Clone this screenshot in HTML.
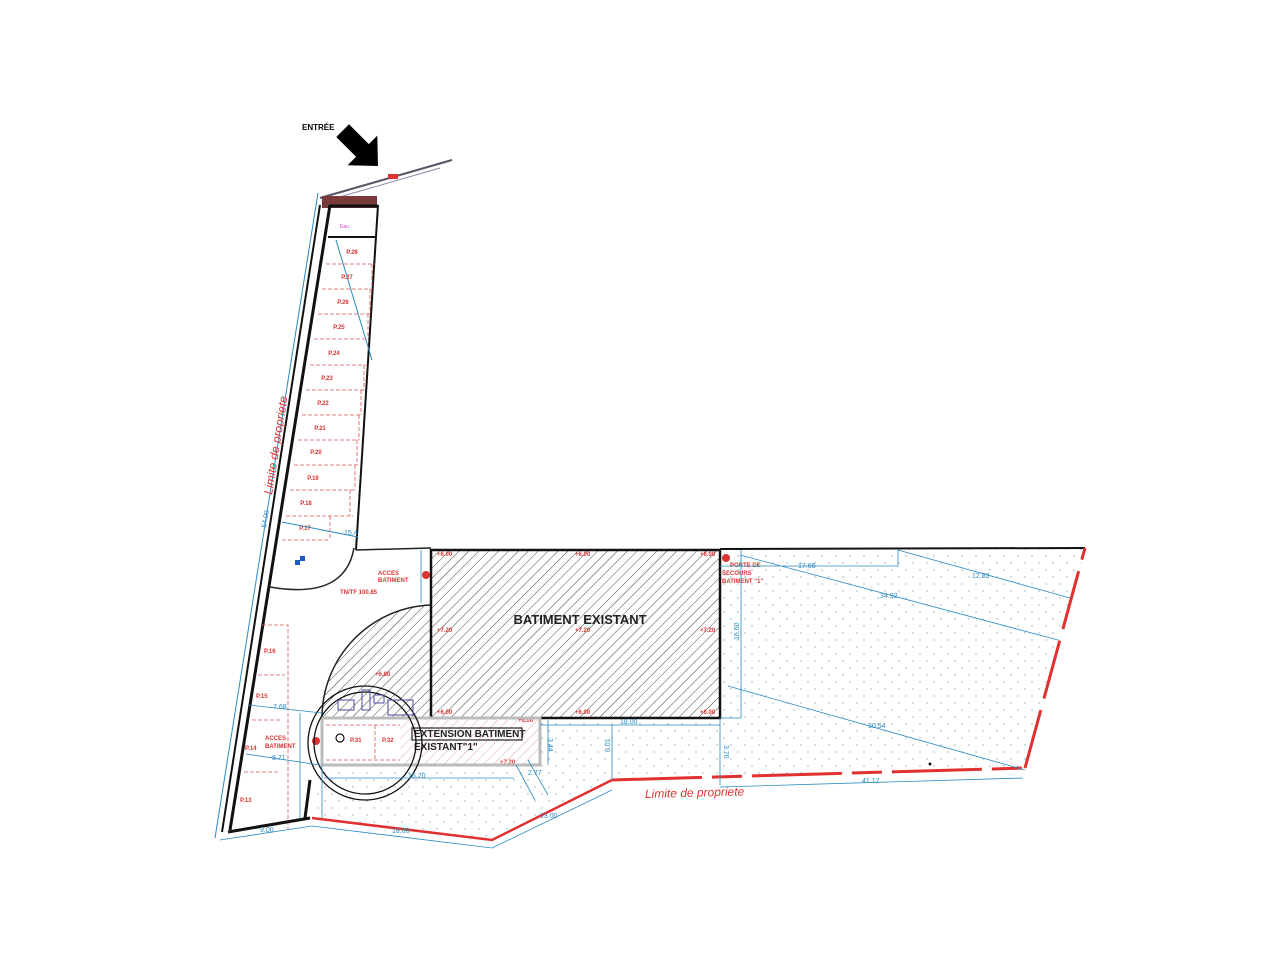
<!DOCTYPE html>
<html><head><meta charset="utf-8"><style>
html,body{margin:0;padding:0;background:#fff;}
svg{display:block;}
text{font-family:"Liberation Sans",sans-serif;}
.r{fill:#d33;font-size:6px;font-weight:bold;}
.b{fill:#2a8ac0;font-size:7px;}
</style></head><body>
<svg width="1280" height="960" viewBox="0 0 1280 960" xmlns="http://www.w3.org/2000/svg">
<defs>
<pattern id="h" width="7" height="7" patternUnits="userSpaceOnUse" patternTransform="rotate(45)">
<line x1="0" y1="0" x2="0" y2="7" stroke="#333" stroke-width="0.9"/></pattern>
<pattern id="hp" width="7" height="7" patternUnits="userSpaceOnUse" patternTransform="rotate(45)">
<line x1="0" y1="0" x2="0" y2="7" stroke="#e0a0a0" stroke-width="0.9"/></pattern>
<pattern id="d" width="14" height="14" patternUnits="userSpaceOnUse">
<circle cx="3" cy="3" r="0.7" fill="#8ab"/><circle cx="10" cy="10" r="0.7" fill="#8ab"/></pattern>
</defs>
<rect width="1280" height="960" fill="#fff"/>
<polygon points="720,550 1085,548 1025,768 612,780 492,840 312,818 322,765 540,765 540,718 720,718" fill="url(#d)"/>
<text x="302" y="130" font-size="8" font-weight="bold" fill="#000">ENTRÉE</text>
<polygon points="-50,-9 -22,-9 -22,-21 0,0 -22,21 -22,9 -50,9" fill="#000" transform="translate(378,166) rotate(45)"/>
<line x1="320" y1="198" x2="452" y2="160" stroke="#556" stroke-width="2"/>
<line x1="322" y1="202" x2="440" y2="168" stroke="#88a" stroke-width="1"/>
<rect x="388" y="174" width="10" height="5" fill="#d33"/>
<rect x="322" y="196" width="55" height="12" fill="#7a3a3a"/>
<text x="340" y="228" font-size="5" fill="#c4c">Eau</text>
<line x1="318" y1="193" x2="215" y2="838" stroke="#2a8ac0" stroke-width="1"/>
<line x1="320" y1="205" x2="222" y2="832" stroke="#111" stroke-width="2"/>
<line x1="330" y1="205" x2="230" y2="830" stroke="#111" stroke-width="3"/>
<line x1="378" y1="205" x2="356" y2="550" stroke="#111" stroke-width="2"/>
<line x1="330" y1="206" x2="378" y2="206" stroke="#111" stroke-width="3"/>
<line x1="328" y1="237" x2="377" y2="237" stroke="#111" stroke-width="2"/>
<line x1="336" y1="240" x2="372" y2="360" stroke="#2a8ac0" stroke-width="1"/>
<g stroke="#d55" stroke-width="0.8" fill="none" stroke-dasharray="4,2">
<path d="M326,264 H375 M322,289 H372 M318,314 H370 M314,339 H368 M310,365 H366 M306,390 H364 M302,415 H361 M298,440 H359 M294,465 H357 M290,490 H355 M286,516 H353 M282,540 H330"/>
<path d="M372,264 V289 M370,289 V314 M368,314 V339 M364,365 V390 M361,390 V415 M359,415 V440 M357,440 V465 M355,465 V490 M350,490 V516 M330,516 V540"/>
</g>
<g class="r" text-anchor="middle">
<text x="352" y="254">P.28</text><text x="347" y="279">P.27</text><text x="343" y="304">P.26</text><text x="339" y="329">P.25</text><text x="334" y="355">P.24</text><text x="327" y="380">P.23</text><text x="323" y="405">P.22</text><text x="320" y="430">P.21</text><text x="316" y="454">P.20</text><text x="313" y="480">P.19</text><text x="306" y="505">P.18</text><text x="305" y="530">P.17</text>
</g>
<line x1="282" y1="522" x2="358" y2="537" stroke="#2a8ac0" stroke-width="1"/>
<text class="b" x="344" y="535">15.4</text>
<text class="b" x="0" y="0" transform="translate(266,528) rotate(-80)">54.00</text>
<text x="0" y="0" font-size="12" font-style="italic" fill="#d33" transform="translate(272,495) rotate(-81)">Limite de propriete</text>
<path d="M270,587 Q345,600 354,548" fill="none" stroke="#222" stroke-width="1.5"/>
<line x1="356" y1="550" x2="431" y2="548" stroke="#222" stroke-width="1.5"/>
<line x1="720" y1="549" x2="1085" y2="548" stroke="#111" stroke-width="2"/>
<rect x="295" y="560" width="5" height="5" fill="#1a5ac0"/><rect x="300" y="556" width="5" height="5" fill="#1a5ac0"/>
<text class="r" x="378" y="575">ACCES</text><text class="r" x="378" y="582">BATIMENT</text>
<text class="r" x="340" y="594">TN/TF 100.85</text>
<circle cx="426" cy="575" r="4" fill="#d33"/>
<line x1="421" y1="550" x2="421" y2="603" stroke="#2a8ac0" stroke-width="0.8"/>
<path d="M431,605 A113,113 0 0 0 322,718 L431,718 Z" fill="url(#h)" stroke="#222" stroke-width="1.5"/>
<rect x="431" y="550" width="289" height="168" fill="url(#h)" stroke="#111" stroke-width="2.5"/>
<text x="580" y="624" font-size="13" font-weight="bold" fill="#222" text-anchor="middle">BATIMENT EXISTANT</text>
<g class="r"><text x="437" y="556">+6.00</text><text x="575" y="556">+6.00</text><text x="700" y="556">+6.00</text>
<text x="437" y="632">+7.20</text><text x="575" y="632">+7.20</text><text x="700" y="632">+7.20</text>
<text x="437" y="714">+6.00</text><text x="575" y="714">+6.00</text><text x="700" y="714">+6.00</text>
<text x="375" y="676">+6.80</text><text x="518" y="722">+6.00</text><text x="500" y="764">+7.20</text>
<text x="730" y="567">PORTE DE</text><text x="722" y="575">SECOURS</text><text x="722" y="583">BATIMENT "1"</text></g>
<circle cx="726" cy="558" r="4" fill="#d33"/>
<path d="M400,720 H540 V755 L528,765 H400 Z" fill="url(#hp)"/>
<rect x="322" y="718" width="218" height="47" fill="none" stroke="#bbb" stroke-width="3"/>
<rect x="412" y="728" width="110" height="12" fill="none" stroke="#222" stroke-width="1.2"/>
<text x="414" y="737" font-size="10" font-weight="bold" fill="#222">EXTENSION BATIMENT</text>
<text x="414" y="750" font-size="10" font-weight="bold" fill="#222">EXISTANT"1"</text>
<g stroke="#d55" stroke-width="0.8" stroke-dasharray="4,2" fill="none"><path d="M326,725 H400 M326,760 H400 M375,725 V760"/></g>
<text class="r" x="350" y="742">P.31</text><text class="r" x="382" y="742">P.32</text>
<circle cx="340" cy="738" r="4" fill="none" stroke="#111" stroke-width="1.2"/>
<circle cx="316" cy="741" r="4" fill="#d33"/>
<circle cx="365" cy="743" r="51" fill="none" stroke="#111" stroke-width="1.3"/>
<circle cx="365" cy="743" r="57" fill="none" stroke="#111" stroke-width="1.3"/>
<g fill="none" stroke="#4a4aa0" stroke-width="1"><rect x="338" y="700" width="16" height="10"/><rect x="362" y="690" width="8" height="20"/><rect x="374" y="695" width="10" height="8"/><rect x="388" y="700" width="25" height="15"/></g>
<g stroke="#d55" stroke-width="0.8" stroke-dasharray="4,2" fill="none"><path d="M262,625 H288 V830 M258,675 H285 M252,720 H282 M244,772 H278"/></g>
<g class="r"><text x="264" y="653">P.16</text><text x="256" y="698">P.15</text><text x="245" y="750">P.14</text><text x="240" y="802">P.13</text>
<text x="265" y="740">ACCES</text><text x="265" y="748">BATIMENT</text></g>
<line x1="248" y1="705" x2="322" y2="713" stroke="#2a8ac0" stroke-width="0.8"/>
<line x1="246" y1="754" x2="320" y2="765" stroke="#2a8ac0" stroke-width="0.8"/>
<text class="b" x="273" y="709">7.68</text><text class="b" x="272" y="760">8.71</text>
<line x1="300" y1="713" x2="300" y2="818" stroke="#2a8ac0" stroke-width="0.8"/>
<line x1="322" y1="765" x2="322" y2="818" stroke="#2a8ac0" stroke-width="0.8"/>
<line x1="324" y1="778" x2="514" y2="778" stroke="#2a8ac0" stroke-width="0.8"/>
<text class="b" x="408" y="778">16.20</text>
<line x1="305" y1="818" x2="310" y2="780" stroke="#111" stroke-width="3"/>
<line x1="228" y1="832" x2="310" y2="818" stroke="#111" stroke-width="3"/>
<line x1="220" y1="840" x2="312" y2="826" stroke="#2a8ac0" stroke-width="0.8"/>
<text class="b" x="260" y="832">9.00</text>
<polyline points="312,818 492,840 612,780" fill="none" stroke="#e03030" stroke-width="2.5"/>
<line x1="612" y1="780" x2="1025" y2="768" stroke="#e03030" stroke-width="3" stroke-dasharray="90,10,30,10"/>
<line x1="1025" y1="768" x2="1085" y2="548" stroke="#e03030" stroke-width="3" stroke-dasharray="60,12"/>
<polyline points="312,826 492,848 612,790" fill="none" stroke="#2a8ac0" stroke-width="0.8"/>
<text class="b" x="392" y="833">18.00</text><text class="b" x="540" y="818">13.00</text>
<text x="0" y="0" font-size="12" font-style="italic" fill="#d33" transform="translate(645,798) rotate(-1.5)">Limite de propriete</text>
<g stroke="#2a8ac0" stroke-width="0.8" fill="none">
<path d="M720,566 H898 V550 M898,550 L1070,598 M740,555 L1058,640 M741,550 V718 M728,686 L1025,770 M720,787 L1023,778 M720,718 V785 M540,725 H720 M612,725 V780 M548,720 V765 M516,765 L535,800 M528,760 L548,795 M741,718 H720"/>
</g>
<g class="b"><text x="798" y="568">17.65</text><text x="972" y="578">12.83</text><text x="880" y="598">34.92</text><text x="868" y="728">30.54</text><text x="862" y="783">41.17</text><text x="620" y="724">18.00</text>
<text transform="translate(739,640) rotate(-90)">16.60</text><text transform="translate(610,752) rotate(-90)">6.01</text><text transform="translate(724,745) rotate(90)">3.76</text><text transform="translate(548,738) rotate(90)">3.44</text><text x="528" y="775">2.77</text></g>
<circle cx="930" cy="764" r="1.5" fill="#111"/>
</svg>
</body></html>
